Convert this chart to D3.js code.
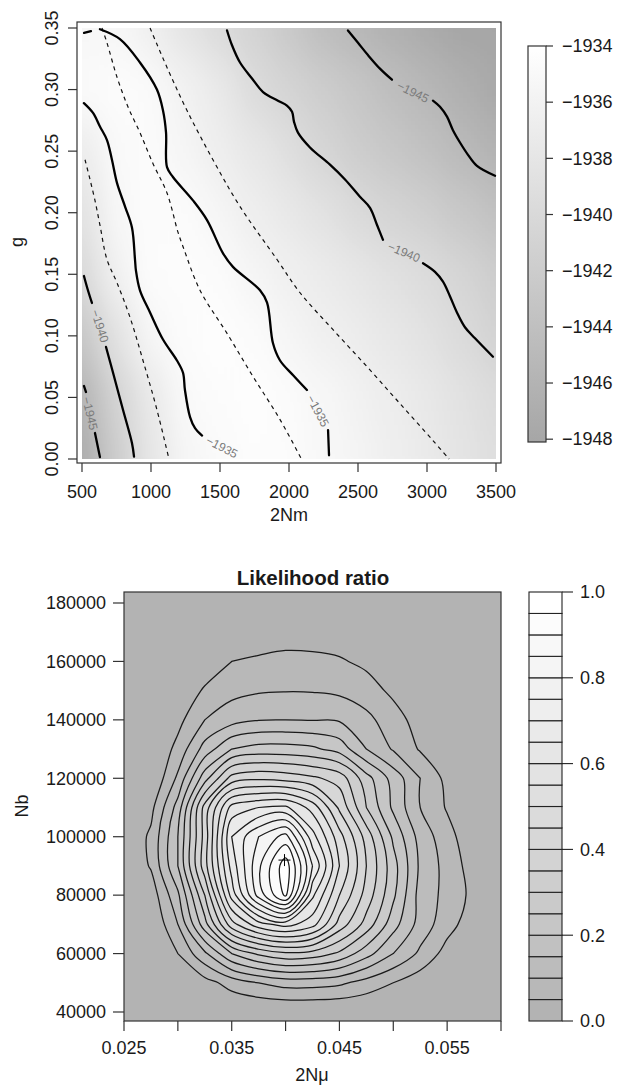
<!DOCTYPE html>
<html><head><meta charset="utf-8">
<script src="https://cdn.jsdelivr.net/npm/d3@7"></script>
<style>
html,body{margin:0;padding:0;background:#fff;}
svg{display:block;font-family:"Liberation Sans",Arial,Helvetica,sans-serif;}
</style></head><body>
<svg id="chart" width="619" height="1088"></svg>
<script>
// ================= TOP PANEL DATA =================
const nmValues = [500, 750, 1000, 1250, 1500, 1750, 2000, 2250, 2500, 2750, 3000, 3250, 3500];
const gValues = [0.00, 0.05, 0.10, 0.15, 0.20, 0.25, 0.30, 0.35];
// log-likelihood surface, one row per g value
const logLikRows = [
  [-1947, -1942, -1938, -1935.6, -1934.8, -1934.3, -1934.5, -1935.05, -1935.8, -1936.5, -1937.3, -1938.2, -1939],
  [-1946, -1941, -1937.5, -1935, -1934.5, -1934.2, -1934.7, -1935.3, -1936, -1936.8, -1937.6, -1938.5, -1939.5],
  [-1943, -1938.5, -1935.4, -1934.4, -1934.2, -1934.6, -1935.5, -1936.3, -1937, -1937.7, -1938.5, -1939.6, -1941],
  [-1940, -1936.2, -1934.4, -1934.3, -1934.7, -1935.6, -1936.4, -1937.2, -1937.9, -1938.7, -1939.5, -1940.6, -1941.8],
  [-1938.5, -1935.3, -1934.5, -1934.6, -1935.5, -1936.6, -1937.6, -1938.6, -1939.8, -1940.8, -1941.6, -1942.6, -1943.8],
  [-1937, -1935, -1934.6, -1935.5, -1936.6, -1937.7, -1939, -1940.6, -1941.8, -1942.8, -1943.8, -1944.9, -1946],
  [-1934.8, -1934.5, -1934.8, -1936, -1937.5, -1939.5, -1940.7, -1941.9, -1942.9, -1944.2, -1945.4, -1946.5, -1947.5],
  [-1935.2, -1935.3, -1936.5, -1938.3, -1939.7, -1941, -1942.5, -1944.2, -1945.3, -1946.3, -1947.2, -1948, -1948]
];
// solid contour segments [2Nm, g]
const solidSegments = [
  [[514,0.0593],[529,0.0544]],
  [[594,0.0211],[630,0.0016]],
  [[514,0.1486],[543,0.137],[572,0.1267]],
  [[674,0.091],[725,0.070],[797,0.040],[862,0.013],[877,0.002]],
  [[514,0.289],[580,0.281],[630,0.270],[681,0.259],[717,0.243],[754,0.224],[812,0.205],[862,0.188],[884,0.162],[891,0.153],[920,0.137],[993,0.119],[1087,0.097],[1188,0.080],[1232,0.070],[1246,0.056],[1283,0.034],[1319,0.025],[1370,0.019]],
  [[515,0.346],[565,0.3475]],
  [[630,0.349],[775,0.341],[920,0.322],[1043,0.300],[1087,0.283],[1109,0.265],[1116,0.237],[1159,0.229],[1304,0.210],[1406,0.194],[1522,0.167],[1594,0.156],[1790,0.137],[1841,0.127],[1884,0.094],[1935,0.080],[2030,0.068],[2130,0.056]],
  [[2283,0.0235],[2290,0.003]],
  [[1551,0.348],[1587,0.336],[1645,0.322],[1732,0.309],[1812,0.298],[1920,0.291],[1985,0.287],[2022,0.282],[2036,0.274],[2065,0.265],[2152,0.253],[2297,0.239],[2406,0.227],[2514,0.213],[2587,0.204],[2638,0.190],[2681,0.178]],
  [[2971,0.159],[3058,0.152],[3116,0.144],[3167,0.132],[3217,0.119],[3275,0.107],[3348,0.098],[3478,0.083]],
  [[2427,0.348],[2500,0.338],[2572,0.328],[2659,0.317],[2746,0.308]],
  [[3043,0.291],[3094,0.286],[3145,0.278],[3188,0.267],[3239,0.257],[3297,0.247],[3362,0.238],[3493,0.230]]
];
const dashedLines = [
  [[522,0.243],[558,0.227],[594,0.210],[630,0.190],[681,0.162],[754,0.143],[848,0.115],[942,0.080],[1043,0.040],[1130,0.0]],
  [[645,0.350],[681,0.338],[754,0.310],[833,0.286],[920,0.265],[1014,0.240],[1116,0.216],[1196,0.184],[1240,0.170],[1355,0.137],[1551,0.102],[1739,0.067],[1935,0.032],[2090,0.0]],
  [[993,0.350],[1116,0.318],[1261,0.283],[1449,0.243],[1645,0.205],[1913,0.162],[2080,0.135],[2319,0.105],[2565,0.075],[2804,0.045],[3043,0.015],[3160,0.0]]
];
const contourLabels = [
  {text:"\u22121945", nm:558, g:0.037, angle:77},
  {text:"\u22121940", nm:630, g:0.108, angle:72},
  {text:"\u22121935", nm:1514, g:0.0097, angle:27},
  {text:"\u22121935", nm:2210, g:0.039, angle:62},
  {text:"\u22121940", nm:2833, g:0.168, angle:23},
  {text:"\u22121945", nm:2898, g:0.298, angle:26}
];
const topXTicks = [500, 1000, 1500, 2000, 2500, 3000, 3500];
const topYTicks = [0.00, 0.05, 0.10, 0.15, 0.20, 0.25, 0.30, 0.35];
const topBarTicks = [-1934, -1936, -1938, -1940, -1942, -1944, -1946, -1948];

// ================= BOTTOM PANEL DATA =================
const muValues = [0.025,0.0275,0.030,0.0325,0.035,0.0375,0.040,0.0425,0.045,0.0475,0.050,0.0525,0.055,0.0575,0.060];
const nbValues = [40000,50000,60000,70000,80000,90000,100000,110000,120000,130000,140000,150000,160000,170000,180000];
// likelihood ratio, one row per Nb value
const lrRows = [
  [0,0,0,0,0,0,0,0,0,0,0,0,0,0,0],
  [0,0,0,0.03,0.07,0.10,0.12,0.12,0.11,0.08,0.05,0.02,0,0,0],
  [0,0,0.05,0.14,0.25,0.31,0.34,0.33,0.29,0.22,0.15,0.09,0.03,0,0],
  [0,0,0.10,0.28,0.48,0.58,0.62,0.57,0.43,0.33,0.22,0.13,0.07,0.02,0],
  [0,0.02,0.14,0.35,0.62,0.82,0.96,0.66,0.50,0.38,0.26,0.13,0.085,0.035,0],
  [0,0.055,0.20,0.43,0.67,0.84,0.98,0.75,0.55,0.40,0.27,0.14,0.082,0.025,0],
  [0,0.06,0.20,0.42,0.70,0.80,0.87,0.67,0.52,0.38,0.24,0.13,0.07,0.01,0],
  [0,0.035,0.17,0.42,0.62,0.65,0.66,0.58,0.44,0.30,0.19,0.10,0.045,0,0],
  [0,0,0.11,0.28,0.42,0.44,0.43,0.41,0.38,0.27,0.18,0.10,0.035,0,0],
  [0,0,0.065,0.17,0.25,0.27,0.27,0.26,0.23,0.15,0.095,0.045,0.01,0,0],
  [0,0,0.035,0.10,0.13,0.148,0.15,0.148,0.145,0.115,0.07,0.03,0.005,0,0],
  [0,0,0.02,0.055,0.085,0.095,0.098,0.097,0.09,0.07,0.04,0.01,0,0,0],
  [0,0,0.01,0.025,0.05,0.058,0.062,0.06,0.055,0.04,0.02,0,0,0,0],
  [0,0,0,0,0.005,0.02,0.03,0.03,0.025,0.01,0,0,0,0,0],
  [0,0,0,0,0,0,0,0,0,0,0,0,0,0,0]
];
const lrLevels = [0.05,0.10,0.15,0.20,0.25,0.30,0.35,0.40,0.45,0.50,0.55,0.60,0.65,0.70,0.75,0.80,0.85,0.90,0.95];
const lrBandEdges = [0,0.05,0.10,0.15,0.20,0.25,0.30,0.35,0.40,0.45,0.50,0.55,0.60,0.65,0.70,0.75,0.80,0.85,0.90,0.95,1.0];
const peakPoint = {mu:0.0399, nb:92000};
const botXTicks = [0.025,0.030,0.035,0.040,0.045,0.050,0.055,0.060];
const botXLabels = [0.025,0.035,0.045,0.055];
const botYTicks = [40000,60000,80000,100000,120000,140000,160000,180000];
const botBarTicks = [0.0,0.2,0.4,0.6,0.8,1.0];

// ================= DRAWING =================
const svg = d3.select("#chart");
const defs = svg.append("defs");
const FS = 18;
const ink = "#1a1a1a";

// ---------- top scales ----------
const xT = d3.scaleLinear().domain([463.8, 3536.2]).range([77, 501]);
const yT = d3.scaleLinear().domain([-0.00325, 0.35487]).range([463, 22]);
const llColor = d3.scaleLinear().domain([-1948, -1934]).range(["#a6a6a6", "#ffffff"]).clamp(true);

// heatmap (cells blurred into a smooth surface)
defs.append("clipPath").attr("id","imgClip").append("rect")
  .attr("x", xT(500)).attr("y", yT(0.35)).attr("width", xT(3500)-xT(500)).attr("height", yT(0)-yT(0.35));
const blur = defs.append("filter").attr("id","smooth")
  .attr("x","-20%").attr("y","-20%").attr("width","140%").attr("height","140%");
blur.append("feGaussianBlur").attr("stdDeviation","13 22").attr("edgeMode","duplicate");

const cells = [];
gValues.forEach((g, r) => nmValues.forEach((nm, c) => cells.push({nm, g, v: logLikRows[r][c], r, c})));
const dNm = nmValues[1]-nmValues[0], dG = gValues[1]-gValues[0];
svg.append("g").attr("clip-path","url(#imgClip)")
  .append("g").attr("filter","url(#smooth)")
  .selectAll("rect").data(cells).join("rect")
  .attr("x", d => xT(d.nm - dNm/2 - (d.c===0 ? dNm*1.5 : 0)))
  .attr("width", d => xT(d.nm + dNm/2 + (d.c===nmValues.length-1 ? dNm*1.5 : 0)) - xT(d.nm - dNm/2 - (d.c===0 ? dNm*1.5 : 0)) + 0.5)
  .attr("y", d => yT(d.g + dG/2 + (d.r===gValues.length-1 ? dG*1.5 : 0)))
  .attr("height", d => yT(d.g - dG/2 - (d.r===0 ? dG*1.5 : 0)) - yT(d.g + dG/2 + (d.r===gValues.length-1 ? dG*1.5 : 0)) + 0.5)
  .attr("fill", d => llColor(d.v));

// contour lines
const lineT = d3.line().x(d => xT(d[0])).y(d => yT(d[1])).curve(d3.curveCatmullRom.alpha(0.5));
svg.append("g").selectAll("path").data(dashedLines).join("path")
  .attr("d", lineT).attr("fill","none").attr("stroke","#111").attr("stroke-width",1.2)
  .attr("stroke-dasharray","4,4");
svg.append("g").selectAll("path").data(solidSegments).join("path")
  .attr("d", lineT).attr("fill","none").attr("stroke","#000").attr("stroke-width",2.3)
  .attr("stroke-linecap","round");
svg.append("g").selectAll("text").data(contourLabels).join("text")
  .attr("transform", d => `translate(${xT(d.nm)},${yT(d.g)}) rotate(${d.angle})`)
  .attr("text-anchor","middle").attr("dy","0.35em")
  .attr("font-size",12).attr("fill","#7a7a7a").text(d => d.text);

// box & axes
svg.append("rect").attr("x",77).attr("y",22).attr("width",424).attr("height",441)
  .attr("fill","none").attr("stroke","#333").attr("stroke-width",1.2);
const topAx = svg.append("g").attr("font-size",FS).attr("fill",ink);
topAx.selectAll("line.xt").data(topXTicks).join("line").attr("class","xt")
  .attr("x1",d=>xT(d)).attr("x2",d=>xT(d)).attr("y1",463).attr("y2",472).attr("stroke","#333").attr("stroke-width",1.2);
topAx.selectAll("text.xl").data(topXTicks).join("text").attr("class","xl")
  .attr("x",d=>xT(d)).attr("y",498).attr("text-anchor","middle").text(d=>d);
topAx.selectAll("line.yt").data(topYTicks).join("line").attr("class","yt")
  .attr("x1",68).attr("x2",77).attr("y1",d=>yT(d)).attr("y2",d=>yT(d)).attr("stroke","#333").attr("stroke-width",1.2);
topAx.selectAll("text.yl").data(topYTicks).join("text").attr("class","yl")
  .attr("transform",d=>`translate(58,${yT(d)}) rotate(-90)`).attr("text-anchor","middle").text(d=>d3.format(".2f")(d));
topAx.append("text").attr("x",289).attr("y",521).attr("text-anchor","middle").text("2Nm");
topAx.append("text").attr("transform","translate(23,242) rotate(-90)").attr("text-anchor","middle").text("g");

// top colour bar
const barT = d3.scaleLinear().domain([-1948.1, -1934]).range([442, 46]);
const grad = defs.append("linearGradient").attr("id","llGrad").attr("x1",0).attr("y1",1).attr("x2",0).attr("y2",0);
grad.selectAll("stop").data([-1948.1, -1934]).join("stop")
  .attr("offset",(d,i)=>i).attr("stop-color",d=>llColor(d));
svg.append("rect").attr("x",528).attr("y",barT(-1934)).attr("width",18).attr("height",barT(-1948.1)-barT(-1934))
  .attr("fill","url(#llGrad)").attr("stroke","#333").attr("stroke-width",1.2);
const tb = svg.append("g").attr("font-size",FS).attr("fill",ink);
tb.selectAll("line").data(topBarTicks).join("line")
  .attr("x1",546).attr("x2",553).attr("y1",d=>barT(d)).attr("y2",d=>barT(d)).attr("stroke","#333").attr("stroke-width",1.2);
tb.selectAll("text").data(topBarTicks).join("text")
  .attr("x",562).attr("y",d=>barT(d)).attr("dy","0.35em").text(d=>"\u2212"+Math.abs(d));

// ---------- bottom scales ----------
const xB = d3.scaleLinear().domain([0.025, 0.060]).range([124, 501]);
const yB = d3.scaleLinear().domain([36919, 183765]).range([1021, 592]);
const s0 = Math.pow(0.7, 2.2);
const bandColor = k => { const v = Math.pow(s0 + k/19*(1-s0), 1/2.2); return d3.rgb(v*255, v*255, v*255).formatHex(); };

svg.append("rect").attr("x",124).attr("y",592).attr("width",377).attr("height",429).attr("fill",bandColor(0));

const nx = muValues.length, ny = nbValues.length;
const gridMu = d3.scaleLinear().domain([0.5, nx-0.5]).range([muValues[0], muValues[nx-1]]);
const gridNb = d3.scaleLinear().domain([0.5, ny-0.5]).range([nbValues[0], nbValues[ny-1]]);
const conts = d3.contours().size([nx, ny]).thresholds(lrLevels)(lrRows.flat());
const ringLine = d3.line().curve(d3.curveCatmullRomClosed.alpha(0.5));
const contourPath = c => c.coordinates.map(poly => poly.map(ring =>
  ringLine(ring.slice(0, -1).map(p => [xB(gridMu(p[0])), yB(gridNb(p[1]))]))).join("")).join("");
defs.append("clipPath").attr("id","lrClip").append("rect").attr("x",124).attr("y",592).attr("width",377).attr("height",429);
const lrG = svg.append("g").attr("clip-path","url(#lrClip)");
lrG.selectAll("path.fill").data(conts).join("path").attr("class","fill")
  .attr("d", contourPath).attr("fill-rule","evenodd")
  .attr("fill", d => bandColor(Math.round(d.value/0.05)));
lrG.selectAll("path.line").data(conts).join("path").attr("class","line")
  .attr("d", contourPath).attr("fill","none").attr("stroke","#1a1a1a").attr("stroke-width",1.25);
// maximum marker
const pk = svg.append("g").attr("stroke","#000").attr("stroke-width",1);
pk.append("line").attr("x1",xB(peakPoint.mu)-6).attr("x2",xB(peakPoint.mu)+6).attr("y1",yB(peakPoint.nb)).attr("y2",yB(peakPoint.nb));
pk.append("line").attr("x1",xB(peakPoint.mu)).attr("x2",xB(peakPoint.mu)).attr("y1",yB(peakPoint.nb)-6).attr("y2",yB(peakPoint.nb)+6);

svg.append("rect").attr("x",124).attr("y",592).attr("width",377).attr("height",429)
  .attr("fill","none").attr("stroke","#333").attr("stroke-width",1.2);
const botAx = svg.append("g").attr("font-size",FS).attr("fill",ink);
botAx.selectAll("line.xt").data(botXTicks).join("line").attr("class","xt")
  .attr("x1",d=>xB(d)).attr("x2",d=>xB(d)).attr("y1",1021).attr("y2",1031).attr("stroke","#333").attr("stroke-width",1.2);
botAx.selectAll("text.xl").data(botXLabels).join("text").attr("class","xl")
  .attr("x",d=>xB(d)).attr("y",1054).attr("text-anchor","middle").text(d=>d3.format(".3f")(d));
botAx.selectAll("line.yt").data(botYTicks).join("line").attr("class","yt")
  .attr("x1",113).attr("x2",124).attr("y1",d=>yB(d)).attr("y2",d=>yB(d)).attr("stroke","#333").attr("stroke-width",1.2);
botAx.selectAll("text.yl").data(botYTicks).join("text").attr("class","yl")
  .attr("x",106).attr("y",d=>yB(d)).attr("dy","0.35em").attr("text-anchor","end").text(d=>d);
botAx.append("text").attr("x",312).attr("y",1081).attr("text-anchor","middle").text("2N\u03bc");
botAx.append("text").attr("transform","translate(28,806) rotate(-90)").attr("text-anchor","middle").text("Nb");
svg.append("text").attr("x",313).attr("y",585).attr("text-anchor","middle")
  .attr("font-size",20.5).attr("font-weight","bold").attr("fill",ink).text("Likelihood ratio");

// bottom colour bar
const barB = d3.scaleLinear().domain([0, 1]).range([1021, 592]);
const bands = lrBandEdges.slice(0, -1).map((lo, k) => ({lo, hi: lrBandEdges[k+1], k}));
svg.append("g").selectAll("rect").data(bands).join("rect")
  .attr("x",529).attr("width",33).attr("y",d=>barB(d.hi)).attr("height",d=>barB(d.lo)-barB(d.hi))
  .attr("fill",d=>bandColor(d.k)).attr("stroke","#222").attr("stroke-width",1.1);
const bb = svg.append("g").attr("font-size",FS).attr("fill",ink);
bb.selectAll("line").data(botBarTicks).join("line")
  .attr("x1",562).attr("x2",573).attr("y1",d=>barB(d)).attr("y2",d=>barB(d)).attr("stroke","#222").attr("stroke-width",1.1);
bb.selectAll("text").data(botBarTicks).join("text")
  .attr("x",580).attr("y",d=>barB(d)).attr("dy","0.35em").text(d=>d3.format(".1f")(d));
</script>
</body></html>
